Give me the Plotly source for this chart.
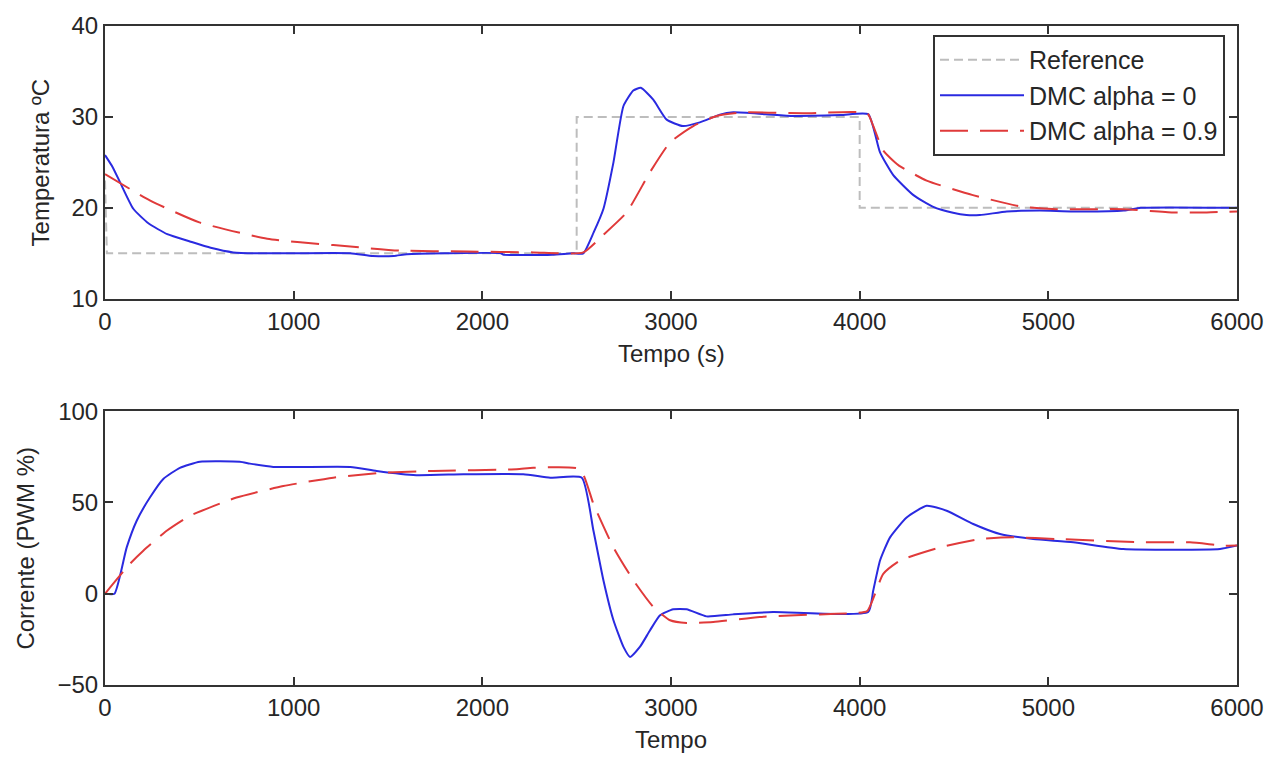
import plotly.graph_objects as go

# ---------------- data ----------------
ref_t = [0, 10, 2500, 2500, 4000, 4000, 6000]
ref_T = [23, 15, 15, 30, 30, 20, 20]

dmc0_t = [0, 40, 80, 150, 230, 330, 450, 560, 680, 800, 1000, 1300, 1420, 1530, 1600,
          1800, 2100, 2110, 2370, 2480, 2535, 2590, 2642, 2695, 2748, 2800, 2840, 2906,
          2977, 3063, 3153, 3259, 3330, 3500, 3650, 3900, 4045, 4108, 4178, 4285, 4390,
          4495, 4566, 4637, 4780, 4955, 5130, 5400, 5490, 6000]
dmc0_T = [25.8, 24.5, 22.8, 19.9, 18.3, 17.1, 16.3, 15.6, 15.1, 15.0, 15.0, 15.0, 14.7, 14.7, 14.9,
          15.0, 15.0, 14.85, 14.85, 15.0, 15.0, 17.3, 19.9, 25.0, 31.2, 32.9, 33.2, 31.9,
          29.7, 29.0, 29.4, 30.25, 30.5, 30.3, 30.1, 30.2, 30.3, 26.1, 23.6, 21.4, 20.1,
          19.45, 19.2, 19.2, 19.6, 19.7, 19.6, 19.7, 20.0, 20.0]

dmc9_t = [0, 240, 500, 860, 1210, 1560, 1920, 2270, 2535, 2640, 2765, 2888, 2995, 3118,
          3242, 3383, 3700, 4040, 4072, 4125, 4205, 4355, 4600, 4867, 5045, 5400, 5660,
          5840, 6000]
dmc9_T = [23.7, 20.8, 18.4, 16.6, 15.9, 15.3, 15.2, 15.1, 15.1, 17.0, 19.5, 23.9, 27.2, 29.0,
          30.1, 30.5, 30.4, 30.4, 29.0, 26.3, 24.7, 23.0, 21.4, 20.1, 19.85, 19.85, 19.5,
          19.5, 19.6]

u0_t = [0, 50, 115, 168, 238, 309, 397, 503, 715, 768, 892, 1300, 1440, 1650, 1900, 2217,
        2360, 2527, 2589, 2642, 2695, 2748, 2783, 2836, 2889, 2942, 3012, 3083, 3188, 3329,
        3541, 4045, 4072, 4108, 4161, 4249, 4355, 4461, 4602, 4744, 4920, 5132, 5397, 5910,
        6000]
u0_v = [0, 0, 25.4, 40, 52.7, 62.9, 69, 72.3, 72.3, 71.3, 69.5, 69.5, 67.3, 65.0, 65.5, 65.5,
        63.6, 63.6, 34.5, 7.3, -14.5, -29.1, -34.6, -29, -20, -11.8, -8.5, -8.5, -12.4, -11.3,
        -10, -10, 1.8, 18.2, 30.9, 41.8, 48.2, 45.5, 38.2, 32.7, 30, 28.2, 24.5, 24.5,
        26.4]

u9_t = [0, 133, 203, 327, 450, 697, 945, 1210, 1475, 1740, 2182, 2270, 2518, 2589, 2695,
        2801, 2907, 2995, 3083, 3224, 3471, 3789, 3966, 4040, 4125, 4214, 4426, 4638, 4814,
        5045, 5486, 5751, 5927, 6000]
u9_v = [0, 16.5, 23.6, 34.5, 42.7, 52.7, 59, 63.6, 66.3, 67.3, 68.2, 69, 68.2, 49.2, 25.4,
        7.3, -7.3, -14.5, -16, -15.5, -12.7, -11.3, -10.6, -9.5, 10.9, 18.2, 25.4, 30, 30.9,
        30, 28.2, 28.2, 26.4, 26.4]

x_ticks = [0, 1000, 2000, 3000, 4000, 5000, 6000]
temp_ticks = [10, 20, 30, 40]
cur_ticks = [-50, 0, 50, 100]

# ---------------- styles ----------------
FONT = "Liberation Sans, Arial, sans-serif"
TXT = "#262626"
FRAME = "#333333"
BLUE = "#2a2ae0"
RED = "#e03a3a"
GRAY = "#bdbdbd"
SMOOTH = 0.5

fig = go.Figure()

fig.add_trace(go.Scatter(x=ref_t, y=ref_T, mode="lines", name="Reference",
                         line=dict(color=GRAY, width=2, dash="9px,5px"),
                         xaxis="x", yaxis="y"))
fig.add_trace(go.Scatter(x=dmc0_t, y=dmc0_T, mode="lines", name="DMC alpha = 0",
                         line=dict(color=BLUE, width=2, shape="spline", smoothing=SMOOTH),
                         xaxis="x", yaxis="y"))
fig.add_trace(go.Scatter(x=dmc9_t, y=dmc9_T, mode="lines", name="DMC alpha = 0.9",
                         line=dict(color=RED, width=2, dash="28px,12px",
                                   shape="spline", smoothing=SMOOTH),
                         xaxis="x", yaxis="y"))

fig.add_trace(go.Scatter(x=u0_t, y=u0_v, mode="lines", showlegend=False,
                         line=dict(color=BLUE, width=2, shape="spline", smoothing=SMOOTH),
                         xaxis="x2", yaxis="y2"))
fig.add_trace(go.Scatter(x=u9_t, y=u9_v, mode="lines", showlegend=False,
                         line=dict(color=RED, width=2, dash="28px,12px",
                                   shape="spline", smoothing=SMOOTH),
                         xaxis="x2", yaxis="y2"))

axis_common = dict(showline=True, linecolor=FRAME, linewidth=2, mirror="ticks",
                   ticks="inside", ticklen=8, tickwidth=2, tickcolor=FRAME,
                   showgrid=False, zeroline=False,
                   tickfont=dict(family=FONT, size=24, color=TXT))

top_dom = [388 / 662, 1.0]
bot_dom = [0.0, 275 / 662]

fig.update_layout(
    width=1283, height=758,
    margin=dict(l=105, r=46, t=23, b=73),
    paper_bgcolor="white", plot_bgcolor="white",
    font=dict(family=FONT, size=24, color=TXT),
    xaxis=dict(domain=[0, 1], anchor="y", range=[0, 6000], tickvals=x_ticks, **axis_common),
    yaxis=dict(domain=top_dom, anchor="x", range=[10, 40], tickvals=temp_ticks, **axis_common),
    xaxis2=dict(domain=[0, 1], anchor="y2", range=[0, 6000], tickvals=x_ticks, **axis_common),
    yaxis2=dict(domain=bot_dom, anchor="x2", range=[-50, 100], tickvals=cur_ticks, **axis_common),
    legend=dict(x=0.9894, xanchor="right", y=(685 - 32) / 662, yanchor="top",
                bgcolor="white", bordercolor=FRAME, borderwidth=2,
                font=dict(family=FONT, size=25, color=TXT),
                itemwidth=84, tracegroupgap=0),
    showlegend=True,
)

ann = dict(xref="paper", yref="paper", showarrow=False,
           font=dict(family=FONT, size=24, color=TXT))
fig.add_annotation(text="Temperatura ºC", x=(40 - 105) / 1132, y=(685 - 160) / 662,
                   textangle=-90, xanchor="center", yanchor="middle", **ann)
fig.add_annotation(text="Corrente (PWM %)", x=(26 - 105) / 1132, y=(685 - 548) / 662,
                   textangle=-90, xanchor="center", yanchor="middle", **ann)
fig.add_annotation(text="Tempo (s)", x=0.5, y=(685 - 352) / 662,
                   xanchor="center", yanchor="middle", **ann)
fig.add_annotation(text="Tempo", x=0.5, y=(685 - 740) / 662,
                   xanchor="center", yanchor="middle", **ann)

fig.write_html("out.html")
